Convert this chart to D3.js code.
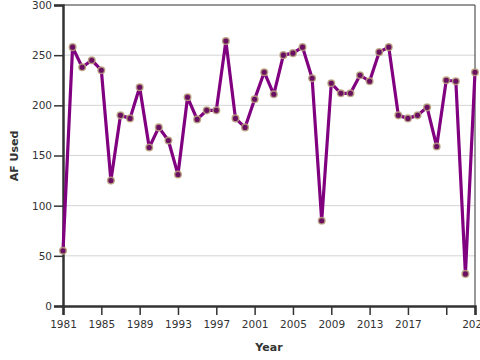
<!DOCTYPE html>
<html><head><meta charset="utf-8">
<script src="https://cdn.jsdelivr.net/npm/d3@7"></script>
<style>
body{margin:0;background:#fff;}
text{font-family:"DejaVu Sans",sans-serif;}
</style></head>
<body><svg id="c" width="480" height="360"></svg>
<script>
const years = [1981,1982,1983,1984,1985,1986,1987,1988,1989,1990,1991,1992,1993,1994,1995,1996,1997,1998,1999,2000,2001,2002,2003,2004,2005,2006,2007,2008,2009,2010,2011,2012,2013,2014,2015,2016,2017,2018,2019,2020,2021,2022,2023,2024];
const afUsed = [55,258,238,245,235,125,190,187,218,158,178,165,131,208,186,195,195,264,187,178,206,233,211,250,252,258,227,85,222,212,212,230,224,253,258,190,187,190,198,159,225,224,32,233];
const xTicks = [1981,1985,1989,1993,1997,2001,2005,2009,2013,2017,2021,2024];
const xTickLabels = ["1981","1985","1989","1993","1997","2001","2005","2009","2013","2017","","2024"];
const yTicks = [0,50,100,150,200,250,300];

const svg = d3.select("#c");
const L=63, R=475, T=5, B=306;
const x = d3.scaleLinear().domain([1981,2024]).range([L,R]);
const y = d3.scaleLinear().domain([0,300]).range([B,T]);

svg.append("g").selectAll("line").data(yTicks.filter(v=>v>0&&v<300)).join("line")
  .attr("x1",L).attr("x2",R).attr("y1",d=>y(d)).attr("y2",d=>y(d))
  .attr("stroke","#d4d4d4").attr("stroke-width",1);

svg.append("line").attr("x1",L).attr("x2",R).attr("y1",T).attr("y2",T).attr("stroke","#333").attr("stroke-width",1);
svg.append("line").attr("x1",R).attr("x2",R).attr("y1",T).attr("y2",B).attr("stroke","#333").attr("stroke-width",1);

const xAxis = svg.append("g").attr("transform",`translate(0,${B})`)
  .call(d3.axisBottom(x).tickValues(xTicks).tickFormat((d,i)=>xTickLabels[i]).tickSizeOuter(0).tickSize(9).tickPadding(6));
xAxis.select(".domain").attr("stroke","#333").attr("stroke-width",2.5);
xAxis.selectAll(".tick line").attr("stroke","#333").attr("stroke-width",1.5);
xAxis.selectAll("text").attr("font-size","10.5px").attr("fill","#333");

const yAxis = svg.append("g").attr("transform",`translate(${L},0)`)
  .call(d3.axisLeft(y).tickValues(yTicks).tickSizeOuter(0).tickSize(9).tickPadding(2));
yAxis.select(".domain").attr("stroke","#333").attr("stroke-width",2.5);
yAxis.selectAll(".tick line").attr("stroke","#333").attr("stroke-width",1.5);
yAxis.selectAll("text").attr("font-size","10.5px").attr("fill","#333");

svg.append("path").datum(years.map((yr,i)=>[yr,afUsed[i]]))
  .attr("d",d3.line().x(d=>x(d[0])).y(d=>y(d[1])))
  .attr("fill","none").attr("stroke","#800080").attr("stroke-width",3.2).attr("stroke-linejoin","round");

svg.append("g").selectAll("circle").data(years.map((yr,i)=>[yr,afUsed[i]])).join("circle")
  .attr("cx",d=>x(d[0])).attr("cy",d=>y(d[1])).attr("r",3.3)
  .attr("fill","#6a0f62").attr("stroke","#b9a27c").attr("stroke-opacity",0.85).attr("stroke-width",1.5);

svg.append("text").attr("x",269).attr("y",351).attr("text-anchor","middle")
  .attr("font-size","11px").attr("font-weight","bold").attr("fill","#333").text("Year");
svg.append("text").attr("transform","translate(18,156) rotate(-90)").attr("text-anchor","middle")
  .attr("font-size","11px").attr("font-weight","bold").attr("fill","#333").text("AF Used");
</script></body></html>
